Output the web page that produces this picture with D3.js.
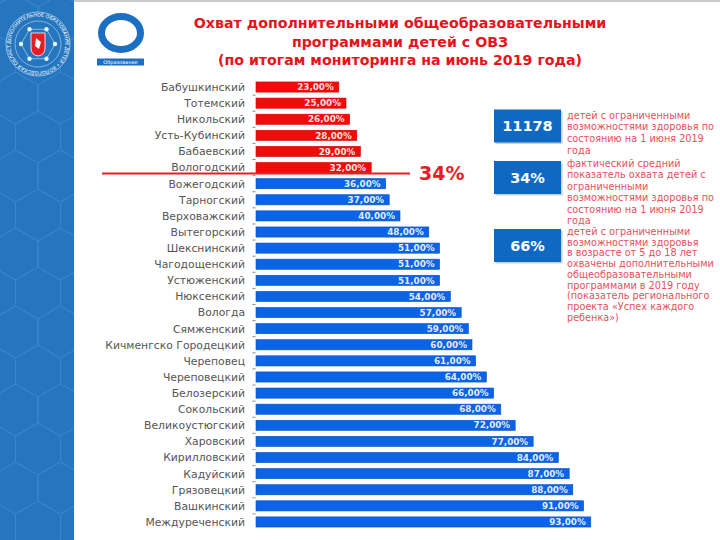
<!DOCTYPE html>
<html><head><meta charset="utf-8">
<script src="https://cdn.jsdelivr.net/npm/d3@7"></script>
<style>body{margin:0;background:#fff} svg{display:block}</style>
</head><body>
<svg id="c" width="720" height="540"></svg>
<script>
// ---- data ----
const categories = ["Бабушкинский","Тотемский","Никольский","Усть-Кубинский","Бабаевский","Вологодский",
  "Вожегодский","Тарногский","Верховажский","Вытегорский","Шекснинский","Чагодощенский","Устюженский",
  "Нюксенский","Вологда","Сямженский","Кичменгско Городецкий","Череповец","Череповецкий","Белозерский",
  "Сокольский","Великоустюгский","Харовский","Кирилловский","Кадуйский","Грязовецкий","Вашкинский","Междуреченский"];
const values = [23,25,26,28,29,32,36,37,40,48,51,51,51,54,57,59,60,61,64,66,68,72,77,84,87,88,91,93];
const averageValue = 34;
const averageLabel = "34%";
const titleLines = ["Охват дополнительными общеобразовательными","программами детей с ОВЗ","(по итогам мониторинга на июнь 2019 года)"];
const infoValues = ["11178","34%","66%"];
const infoTexts = [
  ["детей с ограниченными","возможностями здоровья по","состоянию на 1 июня 2019","года"],
  ["фактический средний","показатель охвата детей с","ограниченными","возможностями здоровья по","состоянию на 1 июня 2019","года"],
  ["детей с ограниченными","возможностями здоровья","в возрасте от 5 до 18 лет","охвачены дополнительными","общеобразовательными","программами в 2019 году","(показатель регионального","проекта «Успех каждого","ребенка»)"]
];

const svg = d3.select("#c");
const RED = "#f50a0a", BLUE = "#0b64e8";

// ---- left strip with hex pattern ----
const strip = svg.append("g");
strip.append("rect").attr("x",0).attr("y",0).attr("width",74).attr("height",540).attr("fill","#2576bf");
const defs = svg.append("defs");
defs.append("clipPath").attr("id","sc").append("rect").attr("width",74).attr("height",540);
const hex = strip.append("g").attr("clip-path","url(#sc)").attr("stroke","#3886cc").attr("stroke-width",1).attr("fill","none");
const R = 26, W = Math.sqrt(3)*R;
for (let r=-1; r<16; r++) {
  for (let c=-1; c<3; c++) {
    const cx = 38 - W/2 + c*W + (r%2 ? W/2 : 0), cy = 20 + r*1.5*R;
    const pts = d3.range(6).map(i => { const a = Math.PI/3*i + Math.PI/6; return [cx+R*Math.cos(a), cy+R*Math.sin(a)]; });
    hex.append("path").attr("d", d3.line()(pts)+"Z");
  }
}
// emblem
const em = strip.append("g").attr("transform","translate(38,44)");
em.append("circle").attr("r",32).attr("fill","#2576bf").attr("stroke","#dfefff").attr("stroke-width",0.6);
em.append("circle").attr("r",23).attr("fill","none").attr("stroke","#dfefff").attr("stroke-width",0.5);
defs.append("path").attr("id","ring").attr("d","M -27.5,0 A 27.5,27.5 0 1,1 27.5,0 A 27.5,27.5 0 1,1 -27.5,0");
em.append("text").attr("font-family","DejaVu Sans").attr("font-size",4.8).attr("fill","#ffffff")
  .append("textPath").attr("href","#ring").text("ДОПОЛНИТЕЛЬНОЕ ОБРАЗОВАНИЕ ДЕТЕЙ • ВОЛОГОДСКАЯ ОБЛАСТЬ • НАВИГАТОР •");
const hexPts = d3.range(6).map(i => { const a = Math.PI/3*i; return [17*Math.cos(a), 17*Math.sin(a)]; });
em.append("path").attr("d", d3.line()(hexPts)+"Z").attr("fill","none").attr("stroke","#cfe4fb").attr("stroke-width",0.6);
hexPts.forEach(p => em.append("circle").attr("cx",p[0]).attr("cy",p[1]).attr("r",2.2).attr("fill","#e8f3ff"));
em.append("path").attr("d","M -7,-11 L 7,-11 L 7,4 Q 7,11 0,12 Q -7,11 -7,4 Z").attr("fill","#e81c24").attr("stroke","#fff").attr("stroke-width",0.8);
em.append("path").attr("d","M -2,-6 L 3,-2 L 1,5 L -3,2 Z").attr("fill","#fff");

// top grey rule
svg.append("line").attr("x1",74).attr("x2",720).attr("y1",1).attr("y2",1).attr("stroke","#b8b8b8").attr("stroke-width",1.5);

// logo "Образование"
const logo = svg.append("g");
logo.append("ellipse").attr("cx",121).attr("cy",33).attr("rx",19.5).attr("ry",16.5).attr("fill","none").attr("stroke","#1a6fc2").attr("stroke-width",7);
logo.append("rect").attr("x",97).attr("y",58.5).attr("width",47).attr("height",7).attr("fill","#1a6fc2");
logo.append("text").attr("x",120.5).attr("y",64).attr("text-anchor","middle").attr("font-family","DejaVu Sans").attr("font-size",5).attr("fill","#fff").text("Образование");

// title
svg.append("g").selectAll("text").data(titleLines).join("text")
  .attr("x",400).attr("y",(d,i)=>28+i*18.5).attr("text-anchor","middle")
  .attr("font-family","DejaVu Sans").attr("font-weight","bold").attr("font-size",14.2)
  .attr("fill","#e5141c").text(d=>d);

// ---- chart ----
const data = categories.map((c,i)=>({cat:c, v:values[i]}));
const x = d3.scaleLinear().domain([0,100]).range([256,616]);
const y = d3.scaleBand().domain(categories).range([76,533]).padding(0.37);

// category labels
svg.append("g").selectAll("text").data(data).join("text")
  .attr("x",245).attr("y",d=>y(d.cat)+y.bandwidth()/2).attr("dy","0.36em")
  .attr("text-anchor","end").attr("font-family","DejaVu Sans").attr("font-size",10.8)
  .attr("fill","#555").text(d=>d.cat);

// small ticks between rows
svg.append("g").selectAll("line").data(categories.slice(1)).join("line")
  .attr("x1",252.5).attr("x2",255.5)
  .attr("y1",d=>y(d)-y.step()*y.paddingInner()/2).attr("y2",d=>y(d)-y.step()*y.paddingInner()/2)
  .attr("stroke","#8a8a8a").attr("stroke-width",1);

// bars
svg.append("g").selectAll("rect").data(data).join("rect")
  .attr("x",x(0)).attr("y",d=>y(d.cat)).attr("width",d=>x(d.v)-x(0)).attr("height",y.bandwidth())
  .attr("fill",d=>d.v<averageValue?RED:BLUE)
  .attr("stroke",d=>d.v<averageValue?"#c80000":"#0a4fb8").attr("stroke-width",0.6);

// bar value labels
svg.append("g").selectAll("text").data(data).join("text")
  .attr("x",d=>x(d.v)-5).attr("y",d=>y(d.cat)+y.bandwidth()/2).attr("dy","0.36em")
  .attr("text-anchor","end").attr("font-family","DejaVu Sans").attr("font-weight","bold").attr("font-size",8.8)
  .attr("fill","#ffffff").attr("fill-opacity",0.9)
  .text(d=>d3.format(".2f")(d.v).replace(".",",")+"%");

// average line
const lastRed = data.filter(d=>d.v<averageValue).pop();
const ly = y(lastRed.cat)+y.bandwidth()+0.8;
svg.append("line").attr("x1",102).attr("x2",410).attr("y1",ly).attr("y2",ly).attr("stroke","#e61e24").attr("stroke-width",2);
svg.append("text").attr("x",419).attr("y",ly+7).attr("font-family","DejaVu Sans").attr("font-weight","bold")
  .attr("font-size",19).attr("fill","#e61e24").text(averageLabel);

// ---- info boxes ----
const boxY = [109.5,161,229];
const lineGap = [11.7,11.5,10.7];
const firstBase = [118.5,166.5,235];
const info = svg.append("g");
infoValues.forEach((v,i)=>{
  info.append("rect").attr("x",495.5).attr("y",boxY[i]+1.5).attr("width",67).attr("height",33).attr("fill","#9fb3c8").attr("opacity",0.6);
  info.append("rect").attr("x",494).attr("y",boxY[i]).attr("width",67).attr("height",33).attr("fill","#0f69c2");
  info.append("text").attr("x",527.5).attr("y",boxY[i]+16.5).attr("dy","0.36em").attr("text-anchor","middle")
    .attr("font-family","DejaVu Sans").attr("font-weight","bold").attr("font-size",14.5).attr("fill","#fff").text(v);
  info.append("g").selectAll("text").data(infoTexts[i]).join("text")
    .attr("x",567).attr("y",(d,j)=>firstBase[i]+j*lineGap[i])
    .attr("font-family","DejaVu Sans").attr("font-size",9.7).attr("fill","#e6505c").text(d=>d);
});
</script>
</body></html>
